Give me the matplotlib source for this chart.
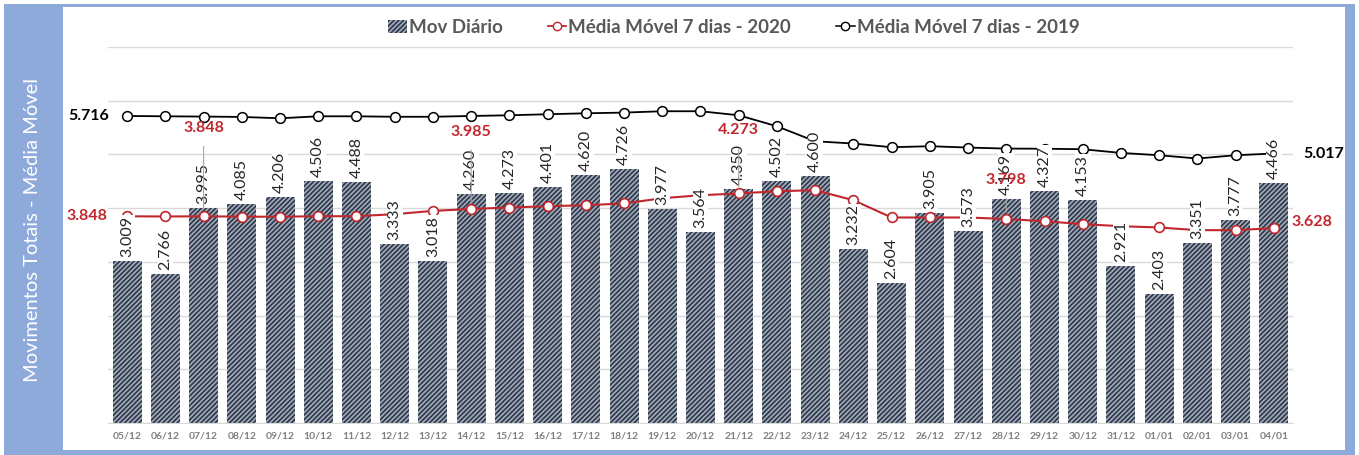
import numpy as np
import matplotlib
matplotlib.use("Agg")
import matplotlib.pyplot as plt
import matplotlib.transforms as mtransforms
from matplotlib.patches import Rectangle, Patch
from matplotlib.lines import Line2D

plt.rcParams['font.family'] = ['Lato', 'DejaVu Sans']
plt.rcParams['hatch.linewidth'] = 1.2

# dados
dias = ["05/12", "06/12", "07/12", "08/12", "09/12", "10/12", "11/12", "12/12", "13/12",
        "14/12", "15/12", "16/12", "17/12", "18/12", "19/12", "20/12", "21/12", "22/12",
        "23/12", "24/12", "25/12", "26/12", "27/12", "28/12", "29/12", "30/12", "31/12",
        "01/01", "02/01", "03/01", "04/01"]

mov_diario = [3009, 2766, 3995, 4085, 4206, 4506, 4488, 3333, 3018, 4260, 4273, 4401,
              4620, 4726, 3977, 3564, 4350, 4502, 4600, 3232, 2604, 3905, 3573, 4169,
              4327, 4153, 2921, 2403, 3351, 3777, 4466]

media_2020 = [3848, 3845, 3848, 3842, 3840, 3850, 3850, 3888, 3949, 3985, 4012, 4036,
              4055, 4087, 4185, 4241, 4273, 4315, 4334, 4148, 3826, 3826, 3826, 3798,
              3757, 3702, 3664, 3640, 3590, 3590, 3628]

media_2019 = [5716, 5710, 5705, 5698, 5673, 5710, 5710, 5701, 5701, 5716, 5729, 5748,
              5766, 5779, 5804, 5804, 5729, 5524, 5245, 5203, 5134, 5153, 5128, 5109,
              5106, 5097, 5028, 4985, 4924, 4985, 5017]

# rotulos das medias que aparecem no grafico: (indice, deslocamento em pixels)
rot_2020 = [(2, 88), (9, 77), (16, 63), (23, 39)]

def fmt(v):
    return ("%.3f" % (v / 1000.0))

azul = '#8EAADB'
vermelho = '#C0272D'
cinza_txt = '#595959'
cor_barra = '#A3ABB8'
cor_hatch = '#2C374B'

fig = plt.figure(figsize=(13.59, 4.55), dpi=100)

# moldura azul
fig.patches.append(Rectangle((0.003, 0.0), 0.994, 0.991, transform=fig.transFigure,
                             facecolor=azul, edgecolor='none', zorder=-10))
fig.patches.append(Rectangle((0.0464, 0.011), 0.9433, 0.9736, transform=fig.transFigure,
                             facecolor='white', edgecolor='none', zorder=-9))

ax = fig.add_axes([0.0795, 0.0703, 0.8719, 0.8264])
ax.set_facecolor('none')

x = np.arange(len(dias))

ax.bar(x, mov_diario, width=0.76, facecolor=cor_barra, edgecolor=cor_hatch,
       hatch='///////', linewidth=0, zorder=2)

ax.plot(x, media_2020, color=vermelho, lw=1.5, marker='o', markersize=7,
        markerfacecolor='white', markeredgecolor=vermelho, markeredgewidth=1.2, zorder=3)
ax.plot(x, media_2019, color='black', lw=1.3, marker='o', markersize=7,
        markerfacecolor='white', markeredgecolor='black', markeredgewidth=1.1, zorder=3)

# rotulos das barras (verticais)
desloc = mtransforms.offset_copy(ax.transData, fig=fig, x=0, y=4, units='dots')
for xi, v in zip(x, mov_diario):
    ax.text(xi, v, fmt(v), transform=desloc, ha='left', va='center',
            rotation=90, rotation_mode='anchor',
            fontsize=11.5, color='#262626', zorder=4,
            bbox=dict(facecolor='white', edgecolor='none', pad=0.6))

# rotulos das medias
ax.annotate(fmt(media_2020[0]), (x[0], media_2020[0]), xytext=(-20, 0),
            textcoords='offset pixels', ha='right', va='center', fontsize=11.5,
            fontweight='bold', color=vermelho, zorder=6)
ax.annotate(fmt(media_2020[-1]), (x[-1], media_2020[-1]), xytext=(18, 6),
            textcoords='offset pixels', ha='left', va='center', fontsize=11.5,
            fontweight='bold', color=vermelho, zorder=6)
for i, dy in rot_2020:
    ax.annotate(fmt(media_2020[i]), (x[i], media_2020[i]), xytext=(0, dy),
                textcoords='offset pixels', ha='center', va='center', fontsize=11.5,
                fontweight='bold', color=vermelho, zorder=6,
                arrowprops=dict(arrowstyle='-', color='#A6A6A6', lw=0.8,
                                shrinkA=6, shrinkB=5))

ax.annotate(fmt(media_2019[0]), (x[0], media_2019[0]), xytext=(-18, 0),
            textcoords='offset pixels', ha='right', va='center', fontsize=11.5,
            fontweight='bold', color='black', zorder=6)
ax.annotate(fmt(media_2019[-1]), (x[-1], media_2019[-1]), xytext=(30, 0),
            textcoords='offset pixels', ha='left', va='center', fontsize=11.5,
            fontweight='bold', color='black', zorder=6)

ax.set_xlim(-0.5, len(dias) - 0.5)
ax.set_ylim(0, 7000)
ax.set_yticks(np.arange(0, 7001, 1000))
ax.yaxis.grid(True, color='#D9D9D9', lw=1.0, zorder=0)
ax.set_axisbelow(True)
ax.tick_params(axis='y', left=False, labelleft=False)
ax.tick_params(axis='x', length=0, pad=6)
ax.set_xticks(x)
ax.set_xticklabels(dias, fontsize=7.5, fontweight='bold', color='#808080')
for s in ['top', 'right', 'left']:
    ax.spines[s].set_visible(False)
ax.spines['bottom'].set_color('#D9D9D9')

# eixo y como texto na faixa azul
fig.text(0.024, 0.495, 'Movimentos Totais - Média Móvel', rotation=90, ha='center',
         va='center', color='white', fontsize=14.5)

# legenda
h_bar = Patch(facecolor=cor_barra, edgecolor=cor_hatch, hatch='///////', linewidth=0)
h_20 = Line2D([], [], color=vermelho, lw=1.3, marker='o', markersize=6,
              markerfacecolor='white', markeredgecolor=vermelho)
h_19 = Line2D([], [], color='black', lw=1.1, marker='o', markersize=6,
              markerfacecolor='white', markeredgecolor='black')
leg = fig.legend([h_bar, h_20, h_19],
                 ['Mov Diário', 'Média Móvel 7 dias - 2020', 'Média Móvel 7 dias - 2019'],
                 loc='center', bbox_to_anchor=(0.54, 0.94), ncol=3, frameon=False,
                 handlelength=1.0, handletextpad=0.1, columnspacing=2.4,
                 prop={'size': 13.5, 'weight': 'bold'})
for t in leg.get_texts():
    t.set_color(cinza_txt)

plt.savefig('out.png', dpi=100)
